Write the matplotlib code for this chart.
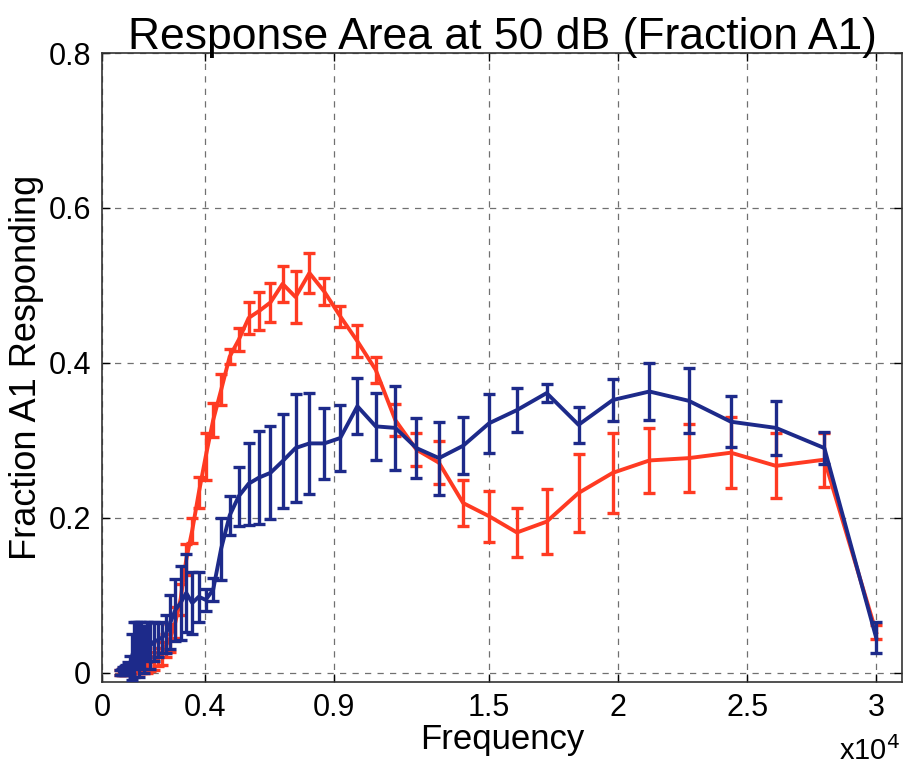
import matplotlib
matplotlib.use("Agg")
import matplotlib.pyplot as plt

# Stimulus frequencies (Hz)
freqs = [711, 761, 816, 875, 938, 1005, 1077, 1154, 1237, 1326, 1421, 1523,
         1632, 1749, 1875, 2010, 2154, 2308, 2474, 2652, 2842, 3046, 3265,
         3499, 3750, 4019, 4308, 4617, 4948, 5303, 5684, 6092, 6529, 6998,
         7500, 8038, 8615, 9234, 9896, 10607, 11368, 12184, 13058, 13995,
         15000, 16077, 17231, 18467, 19793, 21213, 22736, 24368, 26117,
         27991, 30000]

# Fraction of A1 responding (red group)
red_mean = [0.0, 0.0, 0.002, 0.0, 0.003, 0.002, 0.004, 0.004, 0.006, 0.005,
            0.007, 0.008, 0.008, 0.010, 0.012, 0.015, 0.020, 0.025, 0.035,
            0.045, 0.065, 0.095, 0.146, 0.184, 0.232, 0.279, 0.326, 0.365,
            0.408, 0.430, 0.458, 0.467, 0.478, 0.502, 0.485, 0.516, 0.492,
            0.460, 0.428, 0.391, 0.326, 0.288, 0.271, 0.219, 0.202, 0.181,
            0.195, 0.232, 0.258, 0.274, 0.277, 0.284, 0.267, 0.275, 0.052]
red_err = [0.003, 0.003, 0.004, 0.003, 0.004, 0.004, 0.005, 0.005, 0.006,
           0.006, 0.007, 0.008, 0.008, 0.010, 0.010, 0.012, 0.012, 0.015,
           0.015, 0.018, 0.020, 0.020, 0.020, 0.016, 0.020, 0.030, 0.022,
           0.020, 0.010, 0.015, 0.021, 0.025, 0.025, 0.023, 0.033, 0.026,
           0.017, 0.014, 0.021, 0.017, 0.021, 0.021, 0.028, 0.030, 0.033,
           0.032, 0.042, 0.050, 0.052, 0.042, 0.044, 0.046, 0.042, 0.035,
           0.009]

# Fraction of A1 responding (blue group)
blue_mean = [0.0, 0.001, 0.002, 0.003, 0.004, 0.006, 0.010, 0.020, 0.030,
             0.036, 0.030, 0.035, 0.030, 0.040, 0.035, 0.040, 0.042, 0.045,
             0.050, 0.065, 0.081, 0.090, 0.103, 0.090, 0.098, 0.094, 0.107,
             0.160, 0.203, 0.228, 0.244, 0.252, 0.258, 0.273, 0.290, 0.296,
             0.296, 0.303, 0.344, 0.318, 0.316, 0.290, 0.277, 0.293, 0.322,
             0.339, 0.361, 0.320, 0.352, 0.363, 0.351, 0.324, 0.316, 0.290,
             0.045]
blue_err = [0.003, 0.004, 0.005, 0.006, 0.006, 0.008, 0.012, 0.030, 0.035,
            0.030, 0.035, 0.030, 0.030, 0.025, 0.030, 0.025, 0.022, 0.020,
            0.025, 0.035, 0.040, 0.048, 0.050, 0.040, 0.032, 0.014, 0.015,
            0.040, 0.025, 0.038, 0.053, 0.060, 0.060, 0.061, 0.070, 0.065,
            0.046, 0.042, 0.036, 0.043, 0.054, 0.039, 0.047, 0.037, 0.038,
            0.028, 0.012, 0.023, 0.027, 0.037, 0.042, 0.033, 0.035, 0.021,
            0.020]

xtick_vals = [0, 4000, 9000, 15000, 20000, 25000, 30000]
xtick_labels = ["0", "0.4", "0.9", "1.5", "2", "2.5", "3"]
ytick_vals = [0, 0.2, 0.4, 0.6, 0.8]
ytick_labels = ["0", "0.2", "0.4", "0.6", "0.8"]

RED = "#ff3a22"
BLUE = "#1d2a8a"

plt.rcParams["font.family"] = ["Liberation Sans", "DejaVu Sans"]

fig = plt.figure(figsize=(9.04, 7.74), dpi=100)
ax = fig.add_axes([0.1128, 0.1189, 0.885, 0.8126])

ax.errorbar(freqs, red_mean, yerr=red_err, color=RED, lw=2.8,
            elinewidth=2.4, capsize=4.5, capthick=2.4, zorder=3)
ax.errorbar(freqs, blue_mean, yerr=blue_err, color=BLUE, lw=2.8,
            elinewidth=2.4, capsize=4.5, capthick=2.4, zorder=4)

ax.set_xlim(0, 31000)
ax.set_ylim(-0.012, 0.8)
ax.set_xticks(xtick_vals)
ax.set_xticklabels(xtick_labels)
ax.set_yticks(ytick_vals)
ax.set_yticklabels(ytick_labels)

ax.grid(True, linestyle=(0, (5, 5)), color="#707070", linewidth=0.9)
ax.set_axisbelow(True)
ax.tick_params(direction="in", length=6, width=1, top=True, right=True,
               labelsize=22, pad=8)
for s in ax.spines.values():
    s.set_linewidth(1.2)
    s.set_color("#333333")

ax.set_title("Response Area at 50 dB (Fraction A1)", fontsize=32, pad=3)
ax.set_xlabel("Frequency", fontsize=25, labelpad=0)
ax.set_ylabel("Fraction A1 Responding", fontsize=26, labelpad=3)
fig.text(0.962, 0.03, r"x10$^4$", fontsize=21, ha="center", va="center")

fig.savefig("out.png", dpi=100)
